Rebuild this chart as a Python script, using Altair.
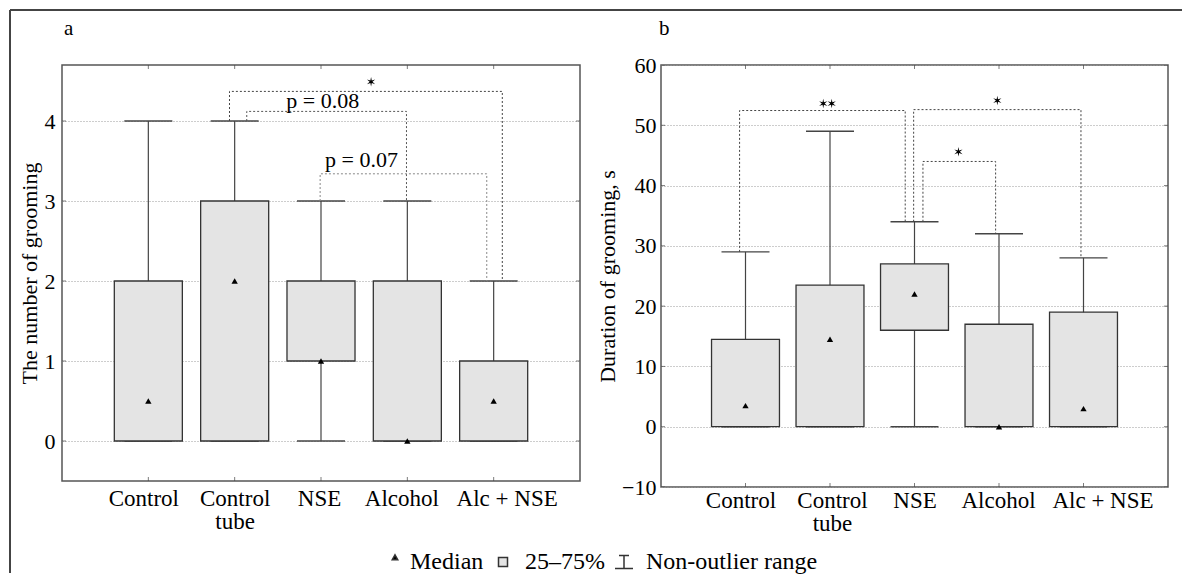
import math
import altair as alt
import pandas as pd

FONT = "Liberation Serif"

# ---------------- data ----------------
groups = ["Control", "Control tube", "NSE", "Alcohol", "Alc + NSE"]
group_lines = [["Control"], ["Control", "tube"], ["NSE"], ["Alcohol"], ["Alc + NSE"]]

# panel a: number of grooming
a_low = [0, 0, 0, 0, 0]
a_q1 = [0, 0, 1, 0, 0]
a_med = [0.5, 2, 1, 0, 0.5]
a_q3 = [2, 3, 2, 2, 1]
a_high = [4, 4, 3, 3, 2]
a_ticks = [0, 1, 2, 3, 4]

# panel b: duration of grooming, s
b_low = [0, 0, 0, 0, 0]
b_q1 = [0, 0, 16, 0, 0]
b_med = [3.5, 14.5, 22, 0, 3]
b_q3 = [14.5, 23.5, 27, 17, 19]
b_high = [29, 49, 34, 32, 28]
b_ticks = [-10, 0, 10, 20, 30, 40, 50, 60]

# significance brackets (x in category units, y in data units)
a_br_xl = [1.94, 2.14, 2.99]
a_br_xr = [5.10, 3.99, 4.92]
a_br_top = [4.37, 4.12, 3.34]
a_br_yl = [4, 4, 3]
a_br_yr = [2, 3, 2]
a_br_col = ["#444", "#555", "#888"]
a_lab_text = ["p = 0.08", "p = 0.07"]
a_lab_x = [3.02, 3.47]
a_lab_y = [4.25, 3.51]
a_star_x = [3.58]
a_star_y = [4.49]

b_br_xl = [0.93, 2.99, 3.10]
b_br_xr = [2.89, 4.97, 3.96]
b_br_top = [52.45, 52.6, 44.0]
b_br_yl = [29, 34, 34]
b_br_yr = [34, 28, 32]
b_br_col = ["#444", "#444", "#444"]
b_lab_text = []
b_lab_x = []
b_lab_y = []
b_star_x = [1.92, 2.02, 3.98, 3.52]
b_star_y = [53.6, 53.6, 54.1, 45.6]

legend_items = ["Median", "25–75%", "Non-outlier range"]

label_expr = "[" + ",".join(
    "[" + ",".join("'" + s + "'" for s in lines) + "]" for lines in group_lines
) + "][datum.value - 1]"

BOX_FILL = "#e4e4e4"

# symbol paths (styles)
_star_pts = []
for k in range(12):
    ang = math.radians(-90 + 30 * k)
    r = 1.0 if k % 2 == 0 else 0.3
    _star_pts.append(f"{r * math.cos(ang):.3f},{r * math.sin(ang):.3f}")
STAR_PATH = "M" + "L".join(_star_pts) + "Z"
LEG_TRI = "M1.4,-1.45L1.95,-0.45L0.85,-0.45Z"
LEG_BOX = "M-0.9,-0.9H0.9V0.9H-0.9Z"
LEG_WHISKER = "M-1,-1.3H1M0,-1.3V1.3M-1.8,1.3H1.8"


def label_nudge(offsets):
    conds = [{"test": f"datum.value == {i + 1}", "value": o}
             for i, o in enumerate(offsets) if o != 0]
    return {"condition": conds, "value": 0}


def panel(letter, low, q1, med, q3, high, ydom, yticks, ytitle, width, height,
          box_half, cap_half, br, labs, stars, xlabpad, ylabpad, ytitlepad,
          nudges, letter_x, legend=False, frame=False):
    n = len(groups)
    df = pd.DataFrame({"group": groups, "pos": list(range(1, n + 1)),
                       "low": low, "q1": q1, "med": med, "q3": q3, "high": high})
    xs = alt.Scale(domain=[0, n + 1], nice=False, zero=False)
    ys = alt.Scale(domain=ydom, nice=False, zero=False)
    xaxis = alt.Axis(values=list(range(1, n + 1)), labelExpr=label_expr, title=None,
                     grid=False, ticks=False, domain=False, labelFont=FONT,
                     labelFontSize=23, labelColor="black", labelPadding=xlabpad,
                     labelLineHeight=23, labelOverlap=False,
                     labelOffset=label_nudge(nudges))
    yaxis = alt.Axis(values=yticks, title=ytitle, grid=True, gridDash=[1, 2],
                     gridColor="#9a9a9a", gridWidth=1, ticks=False, domain=False,
                     labelFont=FONT, labelFontSize=22, labelColor="black",
                     labelPadding=ylabpad, titleFont=FONT, titleFontSize=22,
                     titleFontWeight="normal", titleColor="black",
                     titlePadding=ytitlepad)

    def X(f):
        return alt.X(f, scale=xs, axis=xaxis)

    def Y(f):
        return alt.Y(f, scale=ys, axis=yaxis)

    base = alt.Chart(df)

    whisk = base.mark_rule(color="#444", strokeWidth=1.2).encode(
        x=X("pos:Q"), y=Y("low:Q"), y2="high:Q")
    caps = base.transform_fold(["low", "high"], as_=["which", "cap"]).transform_calculate(
        cl=f"datum.pos - {cap_half}", cr=f"datum.pos + {cap_half}"
    ).mark_rule(color="#444", strokeWidth=1.4).encode(
        x=X("cl:Q"), x2="cr:Q", y=Y("cap:Q"))
    box = base.transform_calculate(
        bl=f"datum.pos - {box_half}", br=f"datum.pos + {box_half}"
    ).mark_rect(fill=BOX_FILL, stroke="#333", strokeWidth=1.3).encode(
        x=X("bl:Q"), x2="br:Q", y=Y("q1:Q"), y2="q3:Q")
    medp = base.mark_point(shape="triangle-up", filled=True, color="black",
                           size=40, opacity=1).encode(x=X("pos:Q"), y=Y("med:Q"))

    # inward edge ticks
    tx = pd.DataFrame([(x, y) for x in [0, n + 1] for y in yticks], columns=["x", "y"])
    ty = pd.DataFrame([(x, y) for x in range(1, n + 1) for y in ydom], columns=["x", "y"])
    ticks_x = alt.Chart(tx).mark_tick(orient="horizontal", size=8, thickness=1,
                                      color="#444", clip=True).encode(x=X("x:Q"), y=Y("y:Q"))
    ticks_y = alt.Chart(ty).mark_tick(orient="vertical", size=8, thickness=1,
                                      color="#444", clip=True).encode(x=X("x:Q"), y=Y("y:Q"))

    # brackets
    xl, xr, yt, yl, yr, cols = br
    rows = []
    for i in range(len(xl)):
        pts = [(xl[i], yl[i]), (xl[i], yt[i]), (xr[i], yt[i]), (xr[i], yr[i])]
        for k, (x, y) in enumerate(pts):
            rows.append({"id": i, "k": k, "x": x, "y": y, "col": cols[i]})
    bdf = pd.DataFrame(rows)
    brackets = alt.Chart(bdf).mark_line(strokeDash=[2, 2], strokeWidth=1).encode(
        x=X("x:Q"), y=Y("y:Q"), detail="id:N", order="k:Q",
        color=alt.Color("col:N", scale=None))

    layers = [whisk, caps, box, medp, ticks_x, ticks_y, brackets]

    lt, lx, ly = labs
    if lt:
        ldf = pd.DataFrame({"t": lt, "x": lx, "y": ly})
        layers.append(alt.Chart(ldf).mark_text(font=FONT, fontSize=22, color="black").encode(
            x=X("x:Q"), y=Y("y:Q"), text="t:N"))
    sx, sy = stars
    sdf = pd.DataFrame({"x": sx, "y": sy})
    layers.append(alt.Chart(sdf).mark_point(shape=STAR_PATH, filled=True, color="black",
                                            size=90, opacity=1).encode(
        x=X("x:Q"), y=Y("y:Q")))

    one = pd.DataFrame({"k": [0]})
    # panel letter
    layers.append(alt.Chart(one).mark_text(font=FONT, fontSize=21, color="black",
                                           align="left", baseline="alphabetic").encode(
        x=alt.value(letter_x), y=alt.value(-30), text=alt.value(letter)))

    if legend:
        leg_df = pd.DataFrame({"item": legend_items, "x": [3] * 3, "y": [ydom[0] - 100] * 3})
        ldef = alt.Legend(title=None, orient="none", legendX=314, legendY=485,
                          direction="horizontal", labelFont=FONT, labelFontSize=24,
                          labelColor="black", labelOffset=10, columnPadding=7,
                          padding=0, labelLimit=400, symbolSize=100)
        layers.append(alt.Chart(leg_df).mark_point(filled=False, clip=True, color="#333",
                                                   strokeWidth=1, opacity=1, size=100).encode(
            x=X("x:Q"), y=Y("y:Q"),
            fill=alt.Fill("item:N", scale=alt.Scale(domain=legend_items,
                                                    range=["black", BOX_FILL, "transparent"]),
                          legend=ldef),
            shape=alt.Shape("item:N", scale=alt.Scale(domain=legend_items,
                                                      range=[LEG_TRI, LEG_BOX, LEG_WHISKER]),
                            legend=ldef)))

    if frame:
        layers.append(alt.Chart(one).mark_rule(color="#444", strokeWidth=2).encode(
            x=alt.value(-52), x2=alt.value(1120), y=alt.value(-55)))
        layers.append(alt.Chart(one).mark_rule(color="#444", strokeWidth=2).encode(
            x=alt.value(-52), y=alt.value(-55), y2=alt.value(508)))

    return alt.layer(*layers).properties(width=width, height=height)


left = panel("a", a_low, a_q1, a_med, a_q3, a_high, [-0.5, 4.7], a_ticks,
             "The number of grooming", 518, 416, 0.394, 0.278,
             (a_br_xl, a_br_xr, a_br_top, a_br_yl, a_br_yr, a_br_col),
             (a_lab_text, a_lab_x, a_lab_y), (a_star_x, a_star_y),
             xlabpad=6, ylabpad=7, ytitlepad=3, nudges=[-5, 0, -2, -6, 13],
             letter_x=2, legend=True, frame=True)

right = panel("b", b_low, b_q1, b_med, b_q3, b_high, [-10, 60], b_ticks,
              "Duration of grooming, s", 507, 422, 0.402, 0.284,
              (b_br_xl, b_br_xr, b_br_top, b_br_yl, b_br_yr, b_br_col),
              (b_lab_text, b_lab_x, b_lab_y), (b_star_x, b_star_y),
              xlabpad=2, ylabpad=5, ytitlepad=2, nudges=[-5, 2, 0, -1, 19],
              letter_x=-2)

chart = alt.hconcat(left, right, spacing=81, bounds="flush").properties(
    padding={"left": 0, "top": 0, "right": 0, "bottom": 0}
).configure(
    background="white", font=FONT
).configure_view(stroke="#555", strokeWidth=1.5).configure_axis(
    labelFont=FONT, titleFont=FONT
).configure_legend(labelFont=FONT).configure_text(font=FONT)

chart.save("out.html", embed_options={"renderer": "svg", "actions": False})
